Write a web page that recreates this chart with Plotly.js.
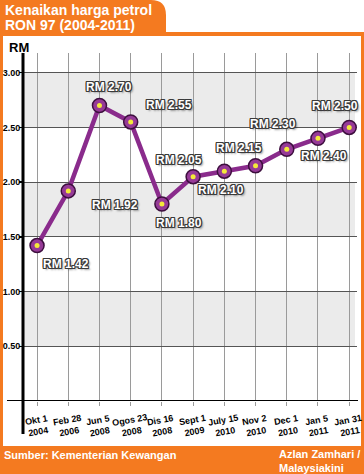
<!DOCTYPE html>
<html><head><meta charset="utf-8">
<script src="https://cdn.plot.ly/plotly-3.0.1.min.js"></script>
<style>html,body{margin:0;padding:0;background:#fff;overflow:hidden} #chart{width:364px;height:474px;}</style>
</head><body><div id="chart"></div>
<script>
// ---- data ----
const tickLine1 = ['Okt 1','Feb 28','Jun 5','Ogos 23','Dis 16','Sept 1','July 15','Nov 2','Dec 1','Jan 5','Jan 31'];
const tickLine2 = ['2004','2006','2008','2008','2008','2009','2010','2010','2010','2011','2011'];
const prices = [1.42, 1.92, 2.70, 2.55, 1.80, 2.05, 2.10, 2.15, 2.30, 2.40, 2.50];
const yTickVals = [0.5, 1, 1.5, 2, 2.5, 3];
const yTickText = ['0.50','1.00','1.50','2.00','2.50','3.00'];
const titleLines = ['Kenaikan harga petrol', 'RON 97 (2004-2011)'];
const unitLabel = 'RM';
const sourceText = 'Sumber: Kementerian Kewangan';
const creditText = 'Azlan Zamhari /<br>Malaysiakini';

const categories = tickLine1.map((t, i) => t + ' ' + tickLine2[i]);
const priceLabels = prices.map(v => 'RM ' + v.toFixed(2));

// ---- style / layout helpers ----
const W = 364, H = 474, ML = 23, MR = 7, MT = 53, MB = 73;
const PW = W - ML - MR, PH = H - MT - MB;
const px = x => (x - ML) / PW;
const py = y => (H - MB - y) / PH;
const ORANGE = '#f47a20';
const SANS = '"Liberation Sans", Arial, sans-serif';
const outline = '1px 1px 0 #3a3a3a, -1px -1px 0 #3a3a3a, 1px -1px 0 #3a3a3a, -1px 1px 0 #3a3a3a, 0 1px 0 #3a3a3a, 1px 0 0 #3a3a3a, -1px 0 0 #3a3a3a, 0 -1px 0 #3a3a3a, 2px 2px 2px rgba(0,0,0,0.4)';
const labelDx = [29, 47, 10, 38, 17, -14, -3, -17, -14, 6, -14];
const labelDy = [-18, -14, 19, 17, -19, 17, -19, 18, 25, -18, 21];

const traces = [
  {
    x: categories, y: prices, type: 'scatter', mode: 'lines+markers',
    line: {color: '#8a2b8c', width: 4.5},
    marker: {size: 14, color: '#963a97', line: {color: '#3d0f3e', width: 1.5}},
    hoverinfo: 'skip'
  },
  {
    x: categories, y: prices, type: 'scatter', mode: 'markers',
    marker: {size: 5, color: '#f4ea3a', line: {width: 0}},
    hoverinfo: 'skip'
  }
];

const shapes = [];
[[2.5, 3], [1.5, 2], [0.5, 1]].forEach(b => shapes.push({
  type: 'rect', xref: 'paper', yref: 'y', x0: 0, x1: px(355), y0: b[0], y1: b[1],
  fillcolor: '#ebebeb', line: {width: 0}, layer: 'below'
}));
// orange frame
const frame = (x0, y0, x1, y1) => ({type: 'rect', xref: 'paper', yref: 'paper',
  x0: px(x0), x1: px(x1), y0: py(y1), y1: py(y0), fillcolor: ORANGE, line: {width: 0}, layer: 'below'});
shapes.push(frame(0, 32, 364, 36));
shapes.push(frame(0, 32, 3, 446));
shapes.push(frame(361, 32, 364, 446));
shapes.push(frame(0, 446, 364, 474));
shapes.push({type: 'path', xref: 'paper', yref: 'paper', layer: 'below', fillcolor: ORANGE, line: {width: 0},
  path: `M ${px(0)},${py(34)} L ${px(0)},${py(0)} L ${px(151)},${py(0)} Q ${px(166)},${py(0)} ${px(166)},${py(15)} L ${px(166)},${py(34)} Z`});
// axis lines
shapes.push({type: 'line', xref: 'paper', yref: 'paper', x0: px(23), x1: px(23), y0: py(434), y1: py(53),
  line: {color: '#000', width: 3}});
shapes.push({type: 'line', xref: 'paper', yref: 'y', x0: px(7), x1: px(358), y0: 0, y1: 0,
  line: {color: '#000', width: 2}});

const annotations = [];
prices.forEach((v, i) => annotations.push({
  x: categories[i], y: v, xref: 'x', yref: 'y', text: priceLabels[i], showarrow: false,
  xshift: labelDx[i], yshift: labelDy[i],
  font: {family: SANS, size: 12, color: '#fff', weight: 'bold', shadow: outline}
}));
categories.forEach((c, i) => annotations.push({
  x: c, xref: 'x', y: py(426), yref: 'paper', yanchor: 'middle', xanchor: 'center',
  text: tickLine1[i] + '<br>' + tickLine2[i], showarrow: false, textangle: -10, align: 'center',
  font: {family: SANS, size: 9, color: '#000', weight: 'bold'}
}));
annotations.push({x: px(7), y: py(47), xref: 'paper', yref: 'paper', xanchor: 'left', yanchor: 'middle',
  text: unitLabel, showarrow: false, font: {family: SANS, size: 13, color: '#000', weight: 'bold'}});
annotations.push({x: px(3), y: py(24.5), xref: 'paper', yref: 'paper', xanchor: 'left', yanchor: 'middle',
  text: titleLines[1], showarrow: false, font: {family: SANS, size: 14, color: '#fff', weight: 'bold'}});
annotations.push({x: px(2), y: py(455), xref: 'paper', yref: 'paper', xanchor: 'left', yanchor: 'middle',
  text: sourceText, showarrow: false, font: {family: SANS, size: 11, color: '#fff', weight: 'bold'}});
annotations.push({x: px(277), y: py(461), xref: 'paper', yref: 'paper', xanchor: 'left', yanchor: 'middle',
  text: creditText, showarrow: false, align: 'left', font: {family: SANS, size: 11, color: '#fff', weight: 'bold'}});

const layout = {
  width: W, height: H,
  margin: {l: ML, r: MR, t: MT, b: MB, pad: 0},
  paper_bgcolor: '#fff', plot_bgcolor: 'rgba(0,0,0,0)',
  showlegend: false,
  title: {text: titleLines[0], xref: 'container', yref: 'container', x: 5 / W, xanchor: 'left',
    y: 1 - 10 / H, yanchor: 'middle', automargin: false,
    font: {family: SANS, size: 14, color: '#fff', weight: 'bold'}},
  xaxis: {type: 'category', range: [-0.45, 10.25], showgrid: true, gridcolor: '#9a9a9a', gridwidth: 1,
    showticklabels: false, ticks: 'outside', ticklen: 4, tickcolor: '#9a9a9a', tickwidth: 1,
    showline: false, zeroline: false, fixedrange: true},
  yaxis: {range: [0, 3.18], tickvals: yTickVals, ticktext: yTickText, showgrid: true, gridcolor: '#555', gridwidth: 1,
    ticks: 'outside', ticklen: 3, tickwidth: 1.5, tickcolor: '#000', ticklabelstandoff: -3,
    tickfont: {family: SANS, size: 9, color: '#000', weight: 'bold'},
    showline: false, zeroline: false, fixedrange: true},
  shapes: shapes,
  annotations: annotations
};

Plotly.newPlot('chart', traces, layout, {displayModeBar: false, staticPlot: true});
</script>
</body></html>
